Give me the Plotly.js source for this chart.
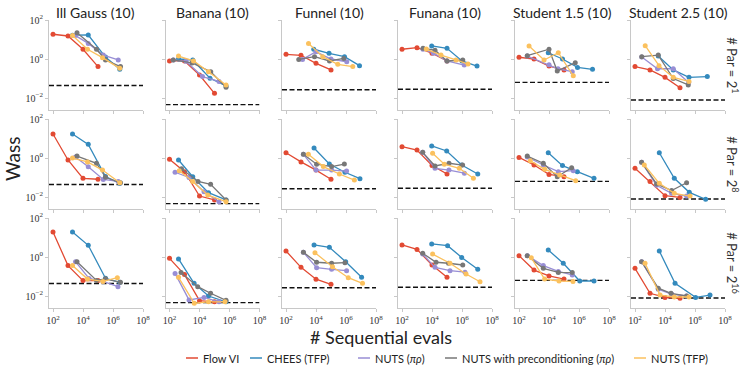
<!DOCTYPE html>
<html>
<head>
<meta charset="utf-8">
<script src="https://cdn.plot.ly/plotly-3.0.1.min.js"></script>
<style>html,body{margin:0;padding:0;background:#fff}</style>
</head>
<body>
<div id="chart" style="width:747px;height:374px"></div>
<script>
const problems = ["Ill Gauss (10)", "Banana (10)", "Funnel (10)", "Funana (10)", "Student 1.5 (10)", "Student 2.5 (10)"];
const parExp = [1, 8, 16];
const methods = ["Flow VI", "CHEES (TFP)", "NUTS (<i>πρ</i>)", "NUTS with preconditioning (<i>πρ</i>)", "NUTS (TFP)"];
const colors = ["#E24A33", "#348ABD", "#988ED5", "#777777", "#FBC15E"];
// reference Wass level per problem (log10)
const refLevel = [-1.36, -2.34, -1.58, -1.55, -1.2, -2.1];

// per panel: [log10 sequential evals], [log10 Wass]; rows 2^1, 2^8, 2^16, columns as problems
const flowVI = [
  [[2,3,4,5],[1.27,1.18,0.5,-0.39]],
  [[2,3,4,5],[-0.1,-0.1,-0.82,-1.76]],
  [[2,3,4,5],[0.24,0.19,-0.22,-0.56]],
  [[2,3,4,5],[0.5,0.58,0.3,-0.1]],
  [[2,3,4,5],[0.09,0.0,-0.36,-0.56]],
  [[2,3,4,5],[-0.39,-0.56,-0.94,-1.47]],
  [[2,3,4,5],[1.23,-0.1,-1.04,-1.09]],
  [[2,3,4,5],[-0.07,-0.7,-1.95,-2.15]],
  [[2,3,4,5],[0.27,-0.2,-0.62,-1.09]],
  [[2,3,4,5],[0.58,0.41,-0.38,-0.82]],
  [[2,3,4,5],[0.03,-0.36,-0.84,-0.96]],
  [[2,3,4,5],[-0.53,-1.21,-1.93,-2.02]],
  [[2,3,4,5],[1.28,-0.44,-1.21,-1.21]],
  [[2,3,4,5],[-0.07,-0.9,-2.24,-2.3]],
  [[2,3,4,5],[0.31,-0.53,-1.14,-1.4]],
  [[2,3,4,5],[0.62,0.39,-0.41,-1.04]],
  [[2,3,4,5],[0.07,-0.67,-0.97,-1.13]],
  [[2,3,4,5],[-0.58,-1.86,-2.07,-2.12]]
];
const chees = [
  [[3.3,4.35,5.5,6.45],[1.22,1.23,0.1,-0.53]],
  [[2.6,3.55,4.7,5.77],[0.0,-0.05,-0.99,-1.38]],
  [[3.85,4.87,5.9,6.9],[0.5,0.29,0.12,-0.34]],
  [[3.98,5.0,6.0,7.0],[0.67,0.55,-0.1,-0.36]],
  [[3.95,4.9,5.9,6.9],[0.32,0.0,-0.43,-0.53]],
  [[3.55,4.55,5.6,6.82],[0.15,-0.56,-0.94,-0.9]],
  [[3.3,4.35,5.5,6.45],[1.23,0.7,-0.95,-1.3]],
  [[2.6,3.55,4.6,5.77],[-0.1,-0.96,-1.78,-2.15]],
  [[3.87,4.89,5.93,6.93],[0.51,-0.31,-0.73,-1.06]],
  [[3.98,4.98,5.98,7.05],[0.62,0.36,-0.36,-0.82]],
  [[3.95,4.9,5.89,7.0],[0.27,-0.39,-0.7,-1.04]],
  [[3.62,4.62,5.62,6.71],[0.27,-1.04,-1.76,-2.12]],
  [[3.3,4.35,5.5,6.45],[1.28,0.6,-1.09,-1.3]],
  [[2.6,3.64,4.6,5.77],[-0.1,-1.35,-2.0,-2.3]],
  [[3.87,4.89,5.98,7.04],[0.62,0.5,-0.24,-1.04]],
  [[3.98,5.04,5.98,7.05],[0.67,0.58,-0.02,-0.63]],
  [[3.95,4.95,6.05,7.0],[0.36,-0.32,-1.23,-1.23]],
  [[3.62,4.67,6.04,7.0],[0.31,-1.35,-2.07,-1.95]]
];
const nutsPR = [
  [[3.5,4.35,5.35,6.35],[1.2,0.8,0.2,-0.05]],
  [[2.25,3.1,4.2,5.3],[-0.05,-0.12,-0.9,-1.15]],
  [[3.1,4.0,5.0,6.05],[-0.02,0.37,0.0,-0.14]],
  [[3.4,4.1,5.0,6.15],[0.5,0.3,-0.1,-0.31]],
  [[2.55,4.0,4.6,5.55],[0.15,-0.3,-0.5,-0.65]],
  [[2.45,3.5,4.55,5.58],[0.1,-0.5,-0.5,-1.2]],
  [[3.5,4.35,5.35,6.35],[0.05,-0.45,-1.1,-1.2]],
  [[2.37,3.3,4.3,5.3],[-0.73,-1.0,-1.73,-2.24]],
  [[3.16,4.0,5.04,6.04],[0.19,-0.62,-0.62,-0.67]],
  [[3.38,4.2,5.13,6.16],[0.29,-0.53,-0.62,-0.78]],
  [[2.55,3.62,4.62,5.62],[0.05,-0.36,-0.7,-0.65]],
  [[2.44,3.44,4.44,5.44],[-0.22,-1.4,-1.81,-1.95]],
  [[3.5,4.4,5.33,6.33],[-0.24,-1.1,-1.25,-1.52]],
  [[2.37,3.3,4.3,5.3],[-0.84,-2.2,-2.07,-2.3]],
  [[3.16,4.04,5.04,6.04],[0.24,-0.55,-0.63,-0.7]],
  [[3.38,4.2,5.2,6.2],[0.15,-0.53,-0.7,-0.78]],
  [[2.55,3.62,4.62,5.55],[0.07,-0.44,-0.74,-0.92]],
  [[2.44,3.55,4.44,5.44],[-0.24,-1.65,-1.9,-2.0]]
];
const nutsPre = [
  [[3.6,4.9,5.5,6.5],[1.35,0.5,-0.05,-0.39]],
  [[2.25,3.5,4.75,5.77],[-0.05,-0.2,-0.65,-1.45]],
  [[2.85,3.9,4.9,5.85],[-0.02,0.12,-0.1,0.03]],
  [[3.4,4.2,5.0,6.05],[0.55,0.45,-0.1,-0.05]],
  [[2.55,4.0,4.55,5.75],[0.17,0.5,-0.62,-0.19]],
  [[2.45,3.55,4.55,5.55],[0.12,0.2,-1.0,-1.33]],
  [[3.6,4.9,5.5,6.5],[0.1,-0.27,-0.99,-1.27]],
  [[2.8,3.9,4.74,5.77],[-0.55,-1.2,-1.35,-2.15]],
  [[3.16,4.04,5.04,5.89],[0.19,-0.32,-0.44,-0.31]],
  [[3.38,4.2,5.13,6.04],[0.29,-0.41,-0.27,-0.36]],
  [[2.55,3.62,4.55,5.51],[0.1,-0.27,-0.96,-0.5]],
  [[2.44,3.44,4.44,5.44],[-0.22,-1.33,-1.67,-1.27]],
  [[3.6,4.9,5.5,6.5],[-0.24,-1.2,-1.12,-1.3]],
  [[2.77,3.88,4.74,5.77],[-0.8,-1.52,-1.86,-2.22]],
  [[3.16,4.04,5.04,5.93],[0.24,-0.27,-0.32,-0.29]],
  [[3.38,4.27,5.1,6.05],[0.19,-0.27,-0.32,-0.41]],
  [[2.55,3.62,4.62,5.55],[0.07,-0.58,-0.79,-0.8]],
  [[2.44,3.55,4.4,5.44],[-0.24,-1.6,-1.86,-2.0]]
];
const nutsTFP = [
  [[3.3,4.3,5.3,6.45],[1.2,0.5,0.07,-0.48]],
  [[2.6,3.6,4.6,5.77],[0.15,-0.1,-0.65,-1.33]],
  [[3.5,4.45,5.45,6.45],[0.8,0.12,-0.27,-0.39]],
  [[3.62,4.6,5.6,6.4],[0.51,0.2,-0.05,-0.26]],
  [[2.67,3.67,4.62,5.62],[0.67,-0.05,0.32,-0.86]],
  [[2.68,3.6,4.55,5.6],[0.68,-0.34,-0.94,-1.15]],
  [[3.3,4.3,5.3,6.45],[0.0,-0.2,-0.62,-1.27]],
  [[2.65,3.55,4.55,5.77],[-0.65,-1.2,-1.9,-2.24]],
  [[3.49,4.49,5.56,6.56],[0.19,-0.44,-0.82,-1.13]],
  [[4.04,4.82,5.82,6.76],[0.24,-0.32,-0.53,-1.04]],
  [[2.75,3.71,4.71,5.78],[-0.14,-0.58,-0.87,-1.16]],
  [[2.62,3.62,4.62,5.67],[-0.36,-1.3,-1.81,-1.95]],
  [[3.3,4.3,5.33,6.29],[-0.44,-1.13,-1.25,-1.06]],
  [[2.6,3.65,4.6,5.7],[-1.04,-2.37,-2.3,-2.3]],
  [[3.93,5.1,6.15,7.1],[0.22,-0.5,-1.06,-1.35]],
  [[4.04,5.2,6.27,7.2],[0.15,-0.32,-0.87,-1.27]],
  [[2.82,3.71,4.67,5.6],[-0.04,-1.13,-1.23,-1.25]],
  [[2.67,3.67,4.62,5.6],[-0.32,-1.95,-2.05,-2.05]]
];

const series = [flowVI, chees, nutsPR, nutsPre, nutsTFP];
const xRange = [1.733, 8.0];
const yRange = [-2.63, 2.0];
const W = 747, H = 374;
const colLeft = [49, 165.5, 282, 398, 515, 631];
const rowTop = [20, 119, 218];
const axW = 94, axH = 90.3;
const legendLeft = [186, 250, 358, 445, 634];
const spine = "#c8c8c8";
const tickFont = {family: "Liberation Serif, DejaVu Serif, serif", size: 10, color: "#333"};
const sansFont = "Lato, Open Sans, sans-serif";

const traces = [];
const layout = {
  width: W, height: H,
  margin: {l: 0, r: 0, t: 0, b: 0, autoexpand: false},
  paper_bgcolor: "#fff", plot_bgcolor: "#fff",
  font: {family: sansFont, color: "#222"},
  showlegend: false,
  annotations: [],
  shapes: []
};

for (let r = 0; r < 3; r++) {
  for (let c = 0; c < 6; c++) {
    const k = r * 6 + c;
    const id = k === 0 ? "" : String(k + 1);
    // reference level
    traces.push({
      x: [10 ** xRange[0], 10 ** xRange[1]], y: [10 ** refLevel[c], 10 ** refLevel[c]],
      xaxis: "x" + id, yaxis: "y" + id, mode: "lines",
      line: {color: "#111", width: 1.4, dash: "5px,2.5px"},
      hoverinfo: "skip"
    });
    series.forEach((s, m) => {
      const [ex, ey] = s[k];
      traces.push({
        x: ex.map(v => 10 ** v), y: ey.map(v => 10 ** v),
        xaxis: "x" + id, yaxis: "y" + id, mode: "lines+markers",
        name: methods[m],
        line: {color: colors[m], width: 1.3},
        marker: {color: colors[m], size: 5},
        hoverinfo: "skip"
      });
    });
    layout["xaxis" + id] = {
      type: "log", range: xRange, anchor: "y" + id,
      domain: [colLeft[c] / W, (colLeft[c] + axW) / W],
      showgrid: false, zeroline: false, showline: true, linecolor: spine, linewidth: 1,
      ticks: "outside", ticklen: 3, tickcolor: spine,
      tickvals: [1e2, 1e4, 1e6, 1e8],
      ticktext: ["10<sup>2</sup>", "10<sup>4</sup>", "10<sup>6</sup>", "10<sup>8</sup>"],
      showticklabels: r === 2, tickfont: tickFont
    };
    layout["yaxis" + id] = {
      type: "log", range: yRange, anchor: "x" + id,
      domain: [1 - (rowTop[r] + axH) / H, 1 - rowTop[r] / H],
      showgrid: false, zeroline: false, showline: true, linecolor: spine, linewidth: 1,
      ticks: "outside", ticklen: 3, tickcolor: spine,
      tickvals: [1e2, 1, 1e-2],
      ticktext: ["10<sup>2</sup>", "10<sup>0</sup>", "10<sup>−2</sup>"],
      showticklabels: c === 0, tickfont: tickFont
    };
  }
}

// legend drawn by hand: short line + label
methods.forEach((name, m) => {
  const x0 = legendLeft[m], yl = 1 - 358 / H;
  layout.shapes.push({type: "line", xref: "paper", yref: "paper",
    x0: x0 / W, x1: (x0 + 12) / W, y0: yl, y1: yl,
    line: {color: colors[m], width: 1.5}});
  layout.annotations.push({text: name, xref: "paper", yref: "paper",
    x: (x0 + 15) / W, y: yl, xanchor: "left", yanchor: "middle", showarrow: false,
    font: {family: sansFont, size: 11, color: "#222"}});
});

function label(text, px, py, size, angle, color) {
  layout.annotations.push({text: text, xref: "paper", yref: "paper",
    x: px / W, y: 1 - py / H, xanchor: "center", yanchor: "middle",
    showarrow: false, textangle: angle,
    font: {family: sansFont, size: size, color: color}});
}
problems.forEach((p, c) => label(p, colLeft[c] + axW / 2, 12, 14, 0, "#222"));
parExp.forEach((e, r) => label("# Par = 2<sup>" + e + "</sup>", 733, rowTop[r] + axH / 2, 13, 90, "#333"));
label("Wass", 12, 158, 19, -90, "#222");
label("# Sequential evals", 381, 337, 18, 0, "#222");

Plotly.newPlot("chart", traces, layout, {staticPlot: true, displayModeBar: false});
</script>
</body>
</html>
